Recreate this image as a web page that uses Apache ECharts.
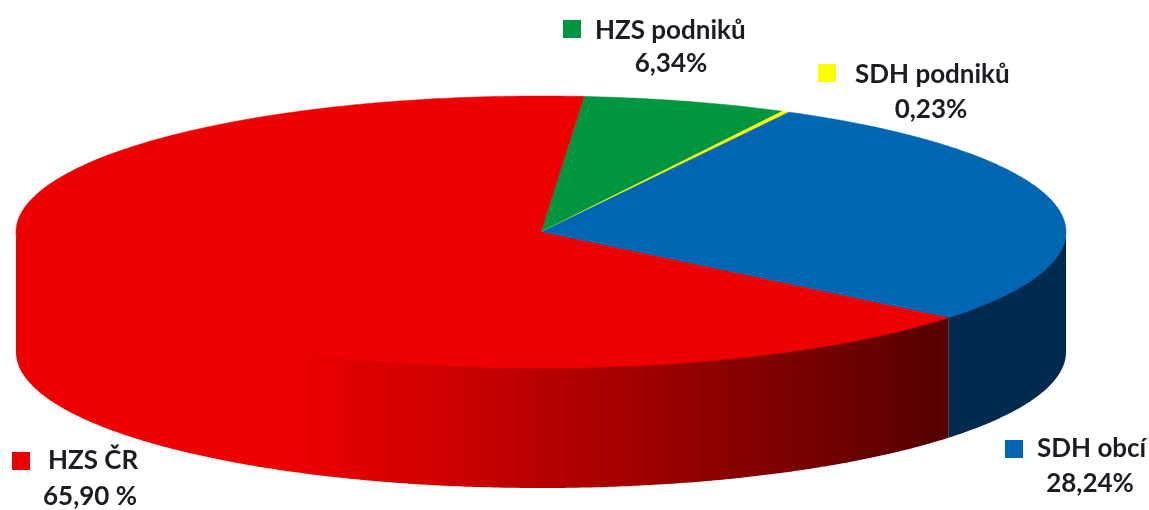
<!DOCTYPE html>
<html><head><meta charset="utf-8">
<style>html,body{margin:0;padding:0;background:#fff}#c{width:1149px;height:510px}</style>
<script src="https://cdn.jsdelivr.net/npm/echarts@6/dist/echarts.min.js"></script>
</head><body><div id="c"></div>
<script>
const categories = ['HZS podniků', 'SDH podniků', 'SDH obcí', 'HZS ČR'];
const shares = [6.34, 0.23, 28.24, 65.90];
const shareLabels = ['6,34%', '0,23%', '28,24%', '65,90 %'];

const topColors = ['#009640', '#ffff00', '#0066b3', '#ee0000'];
const cx = 541, cy = 232, rx = 525, ry = 136, depth = 120, startDeg = 85.3;
const labelLayout = [
  {keyX: 563, keyY: 20, textX: 595, nameY: 31, valX: 671, valY: 64},
  {keyX: 818, keyY: 64, textX: 855, nameY: 75, valX: 931, valY: 110},
  {keyX: 1005, keyY: 440, textX: 1037, nameY: 449, valX: 1090, valY: 484},
  {keyX: 12, keyY: 452, textX: 48, nameY: 461, valX: 90, valY: 497}
];
const total = shares.reduce((a, b) => a + b, 0);
const font = 'bold 26px Lato, "Open Sans", sans-serif';
const ink = '#1c1c24';

function pt(deg, dy) {
  const a = deg * Math.PI / 180;
  return [cx + rx * Math.cos(a), cy - ry * Math.sin(a) + (dy || 0)];
}
function arc(from, to, dy) {
  const n = Math.max(2, Math.ceil(Math.abs(to - from) * 2)), out = [];
  for (let i = 0; i <= n; i++) out.push(pt(from + (to - from) * i / n, dy));
  return out;
}
function wallStyle(i) {
  if (i === 2) return '#002a50';
  if (i === 3) return new echarts.graphic.LinearGradient(280, 0, 944, 0, [
    {offset: 0, color: '#ee0000'},
    {offset: 0.25, color: '#cf0000'},
    {offset: 0.6, color: '#970000'},
    {offset: 1, color: '#560000'}
  ], true);
  return null;
}
function renderItem(params, api) {
  const i = params.dataIndex;
  let before = 0;
  for (let k = 0; k < i; k++) before += shares[k];
  const from = startDeg - before / total * 360;
  const to = from - api.value(0) / total * 360;
  const children = [];
  // visible side wall: the part of the slice's rim in the front half (angles -180..0)
  const wFrom = Math.min(from, 0), wTo = Math.max(to, -180);
  if (wFrom > wTo && wallStyle(i)) {
    const pts = arc(wFrom, wTo, -1).concat(arc(wTo, wFrom, depth));
    children.push({type: 'polygon', shape: {points: pts}, style: {fill: wallStyle(i)}});
  }
  children.push({
    type: 'polygon',
    shape: {points: [[cx, cy]].concat(arc(from, to, 0))},
    style: {fill: topColors[i], stroke: topColors[i], lineWidth: 0.5}
  });
  const L = labelLayout[i];
  children.push({type: 'rect', shape: {x: L.keyX, y: L.keyY, width: 18, height: 18}, style: {fill: topColors[i]}});
  children.push({type: 'text', style: {x: L.textX, y: L.nameY, text: categories[i], font, fill: ink, textAlign: 'left', textVerticalAlign: 'middle'}});
  children.push({type: 'text', style: {x: L.valX, y: L.valY, text: shareLabels[i], font, fill: ink, textAlign: 'center', textVerticalAlign: 'middle'}});
  return {type: 'group', children};
}
const chart = echarts.init(document.getElementById('c'), null, {renderer: 'canvas'});
chart.setOption({
  animation: false,
  backgroundColor: '#fff',
  series: [{
    type: 'custom',
    coordinateSystem: 'none',
    renderItem,
    data: shares.map(v => [v])
  }]
});
</script></body></html>
